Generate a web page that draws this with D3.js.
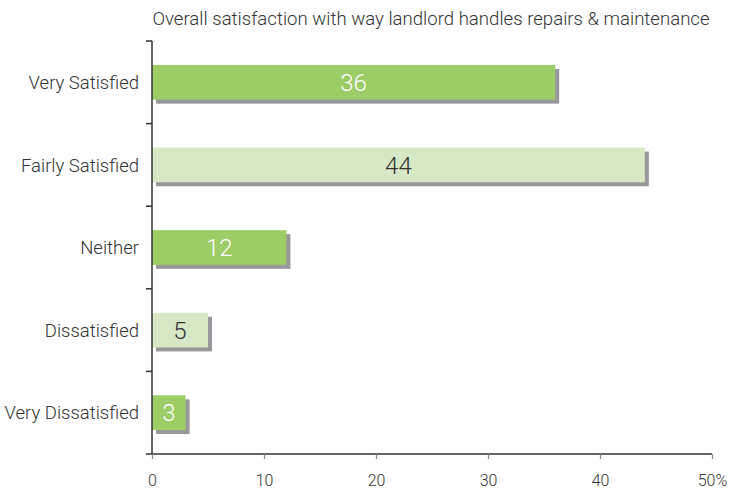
<!DOCTYPE html>
<html>
<head>
<meta charset="utf-8">
<script src="https://cdn.jsdelivr.net/npm/d3@7"></script>
<style>
  html, body { margin: 0; padding: 0; background: #fff; }
  svg text { font-family: Roboto, "Liberation Sans", Arial, sans-serif; font-weight: 300; }
</style>
</head>
<body>
<svg id="chart" width="739" height="489"></svg>
<script>
const categories = ["Very Satisfied", "Fairly Satisfied", "Neither", "Dissatisfied", "Very Dissatisfied"];
const values = [36, 44, 12, 5, 3];
const shades = ["dark", "light", "dark", "light", "dark"];
const xTicks = [0, 10, 20, 30, 40, 50];
const title = "Overall satisfaction with way landlord handles repairs & maintenance";

const svg = d3.select("#chart");
const margin = { left: 152, right: 27, top: 41, bottom: 35 };
const W = 739, H = 489;

const x = d3.scaleLinear().domain([0, 50]).range([margin.left, W - margin.right]);
const y = d3.scaleBand().domain(categories).range([margin.top, H - margin.bottom]).paddingInner(0.58).paddingOuter(0.29);

const fill = { dark: "#9dcd67", light: "#d7e8c6" };
const labelColor = { dark: "#ffffff", light: "#333333" };

// title
svg.append("text")
  .attr("x", 431).attr("y", 25)
  .attr("text-anchor", "middle")
  .attr("font-size", 18.6)
  .attr("fill", "#333")
  .text(title);

// bars with drop shadow
const g = svg.append("g");
categories.forEach((c, i) => {
  g.append("rect")
    .attr("x", x(0) + 4).attr("y", y(c) + 4)
    .attr("width", x(values[i]) - x(0)).attr("height", y.bandwidth())
    .attr("fill", "#98989c");
  g.append("rect")
    .attr("x", x(0)).attr("y", y(c))
    .attr("width", x(values[i]) - x(0)).attr("height", y.bandwidth())
    .attr("fill", fill[shades[i]]);
  g.append("text")
    .attr("x", (x(0) + x(values[i])) / 2)
    .attr("y", y(c) + y.bandwidth() / 2)
    .attr("dy", "0.36em")
    .attr("text-anchor", "middle")
    .attr("font-size", 24)
    .attr("fill", labelColor[shades[i]])
    .text(values[i]);
});

// y axis line with boundary ticks
const bandStep = (H - margin.bottom - margin.top) / categories.length;
const ax = svg.append("g").attr("stroke", "#333").attr("stroke-width", 1.5);
ax.append("line").attr("x1", x(0)).attr("x2", x(0)).attr("y1", margin.top).attr("y2", H - margin.bottom);
d3.range(categories.length + 1).forEach(k => {
  const yy = margin.top + k * bandStep;
  ax.append("line").attr("x1", x(0) - 6).attr("x2", x(0)).attr("y1", yy).attr("y2", yy);
});

// category labels
categories.forEach(c => {
  svg.append("text")
    .attr("x", 139).attr("y", y(c) + y.bandwidth() / 2)
    .attr("dy", "0.36em")
    .attr("text-anchor", "end")
    .attr("font-size", 18.5)
    .attr("fill", "#333")
    .text(c);
});

// x axis
const xAxis = svg.append("g")
  .attr("transform", `translate(0,${H - margin.bottom})`)
  .call(d3.axisBottom(x).tickValues(xTicks).tickSize(5).tickFormat(d => d === 50 ? "50%" : d));
xAxis.select(".domain").attr("stroke", "#333").attr("stroke-width", 1.5).attr("d", `M${x(0)},0H${x(50)}`);
xAxis.selectAll(".tick line").attr("stroke", "#888").attr("stroke-width", 1.2);
xAxis.selectAll(".tick text")
  .attr("font-size", 16)
  .attr("fill", "#333")
  .attr("y", 21)
  .attr("font-family", null);
</script>
</body>
</html>
